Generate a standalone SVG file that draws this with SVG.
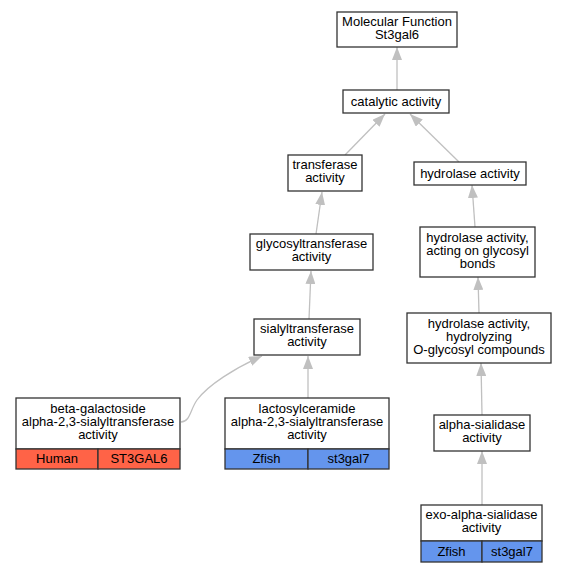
<svg xmlns="http://www.w3.org/2000/svg" width="565" height="573" viewBox="0 0 565 573">
<style>
.n rect{fill:#fff;stroke:#333;stroke-width:1.3}
.n rect.h{fill:#ff6347}
.n rect.z{fill:#6495ed}
text{font-family:"Liberation Sans",Arial,sans-serif;font-size:13px;text-anchor:middle;fill:#000}
.e path{fill:none;stroke:#c0c0c0;stroke-width:1.3;marker-end:url(#ah)}
</style>
<defs>
<marker id="ah" viewBox="0 0 13 10" refX="13" refY="5" markerWidth="13" markerHeight="10" markerUnits="userSpaceOnUse" orient="auto">
<path d="M0,0 L13,5 L0,10 z" fill="#c0c0c0"/>
</marker>
</defs>
<rect width="565" height="573" fill="#fff"/>
<g class="e">
<path d="M397,90 L397,47"/>
<path d="M345,155 L385,114"/>
<path d="M459,162 L410,114"/>
<path d="M316,234 L322,192"/>
<path d="M309,319 L311,271"/>
<path d="M181,422 C190,422 190,410 197,400 C208,385 235,368 262,356"/>
<path d="M308,398 L308,356"/>
<path d="M475,227 L472,185"/>
<path d="M479,313 L478,277"/>
<path d="M482,415 L481,363"/>
<path d="M482,505 L482,451"/>
</g>
<g id="mf" class="n"><rect x="337" y="12" width="120" height="35"/><text x="397" y="26">Molecular Function</text><text x="397" y="39">St3gal6</text></g>
<g id="catalytic" class="n"><rect x="343" y="90" width="106" height="23"/><text x="396" y="106">catalytic activity</text></g>
<g id="transferase" class="n"><rect x="288" y="155" width="74" height="36"/><text x="325" y="169">transferase</text><text x="325" y="182">activity</text></g>
<g id="hydrolase" class="n"><rect x="414" y="162" width="112" height="23"/><text x="470" y="178">hydrolase activity</text></g>
<g id="glyco" class="n"><rect x="250" y="234" width="123" height="36"/><text x="311.5" y="248">glycosyltransferase</text><text x="311.5" y="261">activity</text></g>
<g id="acting" class="n"><rect x="420" y="227" width="115" height="50"/><text x="477.5" y="242">hydrolase activity,</text><text x="477.5" y="255">acting on glycosyl</text><text x="477.5" y="268">bonds</text></g>
<g id="sialyl" class="n"><rect x="254" y="319" width="106" height="36"/><text x="307" y="333">sialyltransferase</text><text x="307" y="346">activity</text></g>
<g id="hydrolyzing" class="n"><rect x="407" y="313" width="144" height="50"/><text x="479" y="328">hydrolase activity,</text><text x="479" y="341">hydrolyzing</text><text x="479" y="354">O-glycosyl compounds</text></g>
<g id="betagal" class="n"><rect x="16" y="398" width="164" height="51"/><rect class="h" x="16" y="449" width="82" height="20"/><rect class="h" x="98" y="449" width="82" height="20"/><text x="98" y="413">beta-galactoside</text><text x="98" y="426">alpha-2,3-sialyltransferase</text><text x="98" y="439">activity</text><text x="57" y="463">Human</text><text x="139" y="463">ST3GAL6</text></g>
<g id="lactosyl" class="n"><rect x="225" y="398" width="164" height="51"/><rect class="z" x="225" y="449" width="83" height="20"/><rect class="z" x="308" y="449" width="81" height="20"/><text x="307" y="413">lactosylceramide</text><text x="307" y="426">alpha-2,3-sialyltransferase</text><text x="307" y="439">activity</text><text x="266.5" y="463">Zfish</text><text x="348.5" y="463">st3gal7</text></g>
<g id="asialidase" class="n"><rect x="434" y="415" width="96" height="36"/><text x="482" y="429">alpha-sialidase</text><text x="482" y="442">activity</text></g>
<g id="exo" class="n"><rect x="421" y="505" width="121" height="36"/><rect class="z" x="421" y="541" width="61" height="21"/><rect class="z" x="482" y="541" width="60" height="21"/><text x="481.5" y="519">exo-alpha-sialidase</text><text x="481.5" y="532">activity</text><text x="451.5" y="556">Zfish</text><text x="512" y="556">st3gal7</text></g>
</svg>
